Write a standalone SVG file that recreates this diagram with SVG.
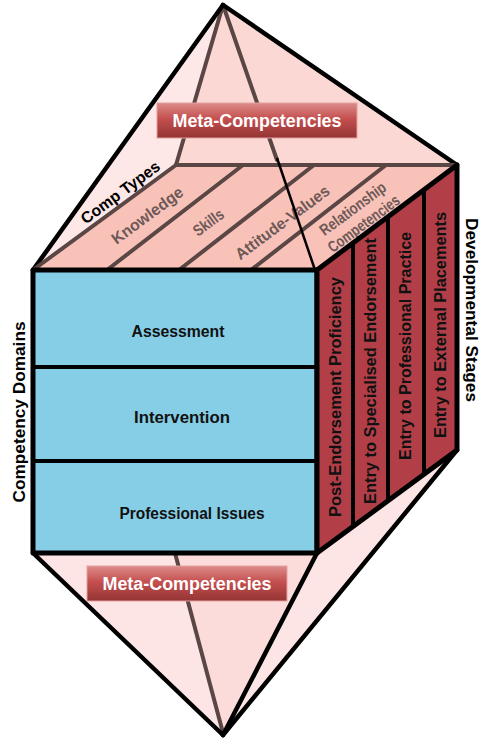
<svg xmlns="http://www.w3.org/2000/svg" width="487" height="739" viewBox="0 0 487 739">
<defs>
<linearGradient id="metaGrad" x1="0" y1="0" x2="0" y2="1">
<stop offset="0" stop-color="#dc8c8a"/>
<stop offset="0.45" stop-color="#c4504f"/>
<stop offset="1" stop-color="#943434"/>
</linearGradient>
<style>
.edge{stroke:#000;stroke-width:4.5;fill:none;stroke-linejoin:round;stroke-linecap:round}
.brown{stroke:#5a4644;stroke-width:4;fill:none;stroke-linecap:round}
.lbl{font-family:"Liberation Sans",Arial,sans-serif;font-weight:bold}
.strip{font-family:"Liberation Sans",Arial,sans-serif;font-size:16px;font-weight:bold;fill:#6e5957}
.dom{font-family:"Liberation Sans",Arial,sans-serif;font-size:16px;font-weight:bold;fill:#111;text-anchor:middle}
.stage{font-family:"Liberation Sans",Arial,sans-serif;font-size:16px;font-weight:bold;fill:#111;text-anchor:middle}
.meta{font-family:"Liberation Sans",Arial,sans-serif;font-size:18px;font-weight:bold;fill:#fff;text-anchor:middle}
</style>
</defs>

<g id="top-pyramid">
<polygon points="223,5 33,270 176,165" fill="#fde8e7"/>
<polygon points="223,5 176,165 457,165" fill="#fbd8d4"/>
<line class="brown" x1="223" y1="5" x2="176" y2="165"/>
<line class="brown" x1="223" y1="5" x2="277" y2="160"/>
<line class="edge" x1="223" y1="5" x2="33" y2="270"/>
<line class="edge" x1="223" y1="5" x2="457" y2="165"/>
</g>

<g id="bottom-pyramid">
<polygon points="33,553 317,553 223,735" fill="#fde5e5"/>
<polygon points="175,553 317,553 223,735" fill="#fcdcdb"/>
<polygon points="317,553 457,450 223,735" fill="#fde5e5"/>
<line class="brown" x1="175" y1="553" x2="223" y2="733"/>
<line class="edge" x1="33" y1="553" x2="223" y2="735"/>
<line class="edge" x1="317" y1="553" x2="223" y2="735"/>
<line class="edge" x1="457" y1="450" x2="223" y2="735"/>
</g>

<g id="comp-types">
<polygon points="33,270 317,270 457,165 176,165" fill="#f9c2b9"/>
<g class="brown">
<line x1="176" y1="165" x2="457" y2="165"/>
<line x1="33" y1="270" x2="176" y2="165"/>
<line x1="107" y1="270" x2="243" y2="165"/>
<line x1="179" y1="270" x2="314" y2="165"/>
<line x1="251" y1="270" x2="386" y2="165"/>
</g>
<text class="lbl" font-size="16" fill="#000" text-anchor="middle" transform="translate(120,192) rotate(-36.5)" y="6" textLength="94" lengthAdjust="spacingAndGlyphs">Comp Types</text>
<text class="strip" text-anchor="middle" transform="translate(147,215) rotate(-36.5)" y="6" textLength="85" lengthAdjust="spacingAndGlyphs">Knowledge</text>
<text class="strip" text-anchor="middle" transform="translate(208,222) rotate(-36.5)" y="6" textLength="34" lengthAdjust="spacingAndGlyphs">Skills</text>
<text class="strip" text-anchor="middle" transform="translate(282,222) rotate(-36.5)" y="6" textLength="113" lengthAdjust="spacingAndGlyphs">Attitude-Values</text>
<text class="strip" font-size="14" text-anchor="middle" transform="translate(353,209) rotate(-36.5)" y="5" textLength="78" lengthAdjust="spacingAndGlyphs">Relationship</text>
<text class="strip" font-size="14" text-anchor="middle" transform="translate(364,224) rotate(-36.5)" y="5" textLength="85" lengthAdjust="spacingAndGlyphs">Competencies</text>
<line x1="277" y1="158" x2="315" y2="270" stroke="#000" stroke-width="2.5"/>
</g>

<g id="competency-domains">
<rect x="33" y="270" width="284" height="283" fill="#86cee6" stroke="#000" stroke-width="5" stroke-linejoin="round"/>
<line x1="33" y1="367" x2="317" y2="367" stroke="#000" stroke-width="4"/>
<line x1="33" y1="461" x2="317" y2="461" stroke="#000" stroke-width="4"/>
<text class="dom" x="178" y="337" textLength="93" lengthAdjust="spacingAndGlyphs">Assessment</text>
<text class="dom" x="182" y="423" textLength="96" lengthAdjust="spacingAndGlyphs">Intervention</text>
<text class="dom" x="192" y="519" textLength="145" lengthAdjust="spacingAndGlyphs">Professional Issues</text>
<text class="lbl" font-size="16" fill="#000" text-anchor="middle" transform="translate(25,412) rotate(-90)" textLength="181" lengthAdjust="spacingAndGlyphs">Competency Domains</text>
</g>

<g id="developmental-stages">
<polygon points="317,270 457,165 457,450 317,553" fill="#b23f48" stroke="#000" stroke-width="5" stroke-linejoin="round"/>
<line x1="353" y1="243" x2="353" y2="527" stroke="#000" stroke-width="4"/>
<line x1="388" y1="217" x2="388" y2="501" stroke="#000" stroke-width="4"/>
<line x1="424" y1="190" x2="424" y2="474" stroke="#000" stroke-width="4"/>
<text class="stage" transform="translate(341,397) rotate(-90)" textLength="240" lengthAdjust="spacingAndGlyphs">Post-Endorsement Proficiency</text>
<text class="stage" transform="translate(376,371) rotate(-90)" textLength="266" lengthAdjust="spacingAndGlyphs">Entry to Specialised Endorsement</text>
<text class="stage" transform="translate(411,346) rotate(-90)" textLength="228" lengthAdjust="spacingAndGlyphs">Entry to Professional Practice</text>
<text class="stage" transform="translate(446,325) rotate(-90)" textLength="226" lengthAdjust="spacingAndGlyphs">Entry to External Placements</text>
<text class="lbl" font-size="16" fill="#000" text-anchor="middle" transform="translate(466,310) rotate(90)" textLength="184" lengthAdjust="spacingAndGlyphs">Developmental Stages</text>
</g>

<g id="meta-top">
<rect x="157" y="103" width="200" height="35" fill="url(#metaGrad)" stroke="#e3a0a0" stroke-width="1"/>
<text class="meta" x="257" y="127" textLength="169" lengthAdjust="spacingAndGlyphs">Meta-Competencies</text>
</g>
<g id="meta-bottom">
<rect x="87" y="566" width="200" height="35" fill="url(#metaGrad)" stroke="#e3a0a0" stroke-width="1"/>
<text class="meta" x="187" y="590" textLength="169" lengthAdjust="spacingAndGlyphs">Meta-Competencies</text>
</g>
</svg>
